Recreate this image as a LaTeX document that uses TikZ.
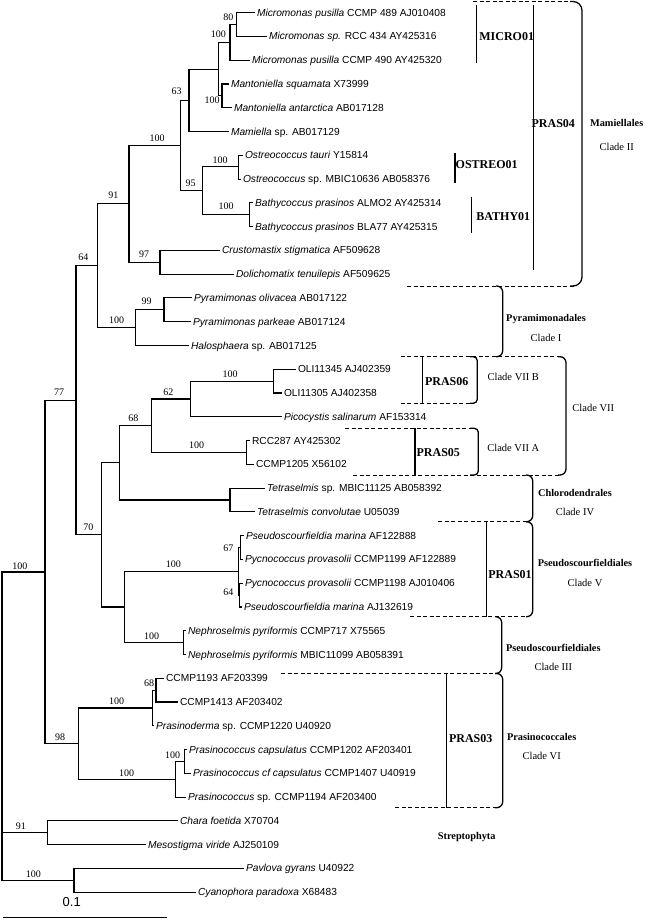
\documentclass[tikz,border=0pt]{standalone}
\usepackage{fontspec}
\setmainfont{Liberation Serif}
\setsansfont{Liberation Sans}

\tikzset{every picture/.style={line width=1.1pt}}
\tikzset{
	leaf/.style={anchor=west, inner sep=1.5pt, text height=7pt, text depth=0pt, font=\sffamily\fontsize{10.2}{12}\selectfont},
	boot/.style={inner sep=0pt, font=\fontsize{10}{12}\selectfont},
	bar/.style={line width=1.3pt},
	brace/.style={line width=1.3pt, rounded corners=6pt},
	dashline/.style={line width=1pt, dash pattern=on 4pt off 2.5pt},
	pras/.style={inner sep=0pt, font=\bfseries\fontsize{12}{14}\selectfont},
	order/.style={inner sep=0pt, font=\bfseries\fontsize{10.3}{12}\selectfont},
	clade/.style={inner sep=0pt, font=\fontsize{10.5}{12}\selectfont}}

\begin{document}
\begin{tikzpicture}[x=1pt,y=1pt,yscale=-1,xscale=1]
	\useasboundingbox (0,0) rectangle (648,920);

	% Leaves
	\node[leaf] (l1) at (255,12.7) {\textit{Micromonas pusilla} CCMP 489 AJ010408};
	\node[leaf] (l2) at (267,36.5) {\textit{Micromonas sp.} RCC 434 AY425316};
	\node[leaf] (l3) at (250,60.2) {\textit{Micromonas pusilla} CCMP 490 AY425320};
	\node[leaf] (l4) at (229,84.0) {\textit{Mantoniella squamata} X73999};
	\node[leaf] (l5) at (232,107.8) {\textit{Mantoniella antarctica} AB017128};
	\node[leaf] (l6) at (229,131.6) {\textit{Mamiella} sp. AB017129};
	\node[leaf] (l7) at (243,155.3) {\textit{Ostreococcus tauri} Y15814};
	\node[leaf] (l8) at (241,179.1) {\textit{Ostreococcus} sp. MBIC10636 AB058376};
	\node[leaf] (l9) at (253,202.9) {\textit{Bathycoccus prasinos} ALMO2 AY425314};
	\node[leaf] (l10) at (253,226.6) {\textit{Bathycoccus prasinos} BLA77 AY425315};
	\node[leaf] (l11) at (220,250.4) {\textit{Crustomastix stigmatica} AF509628};
	\node[leaf] (l12) at (234,274.2) {\textit{Dolichomatix tenuilepis} AF509625};
	\node[leaf] (l13) at (192,297.9) {\textit{Pyramimonas olivacea} AB017122};
	\node[leaf] (l14) at (191,321.7) {\textit{Pyramimonas parkeae} AB017124};
	\node[leaf] (l15) at (189,345.5) {\textit{Halosphaera} sp. AB017125};
	\node[leaf] (l16) at (296,369.3) {OLI11345 AJ402359};
	\node[leaf] (l17) at (282,393.0) {OLI11305 AJ402358};
	\node[leaf] (l18) at (282,416.8) {\textit{Picocystis salinarum} AF153314};
	\node[leaf] (l19) at (250,440.6) {RCC287 AY425302};
	\node[leaf] (l20) at (254,464.3) {CCMP1205 X56102};
	\node[leaf] (l21) at (265,488.1) {\textit{Tetraselmis} sp. MBIC11125 AB058392};
	\node[leaf] (l22) at (255,511.9) {\textit{Tetraselmis convolutae} U05039};
	\node[leaf] (l23) at (244,535.6) {\textit{Pseudoscourfieldia marina} AF122888};
	\node[leaf] (l24) at (243,559.4) {\textit{Pycnococcus provasolii} CCMP1199 AF122889};
	\node[leaf] (l25) at (243,583.2) {\textit{Pycnococcus provasolii} CCMP1198 AJ010406};
	\node[leaf] (l26) at (242,607.0) {\textit{Pseudoscourfieldia marina} AJ132619};
	\node[leaf] (l27) at (186,630.7) {\textit{Nephroselmis pyriformis} CCMP717 X75565};
	\node[leaf] (l28) at (186,654.5) {\textit{Nephroselmis pyriformis} MBIC11099 AB058391};
	\node[leaf] (l29) at (164,678.3) {CCMP1193 AF203399};
	\node[leaf] (l30) at (178,702.0) {CCMP1413 AF203402};
	\node[leaf] (l31) at (154,725.8) {\textit{Prasinoderma} sp. CCMP1220 U40920};
	\node[leaf] (l32) at (187,749.6) {\textit{Prasinococcus capsulatus} CCMP1202 AF203401};
	\node[leaf] (l33) at (191,773.3) {\textit{Prasinococcus cf capsulatus} CCMP1407 U40919};
	\node[leaf] (l34) at (186,797.1) {\textit{Prasinococcus} sp. CCMP1194 AF203400};
	\node[leaf] (l35) at (178,820.9) {\textit{Chara foetida} X70704};
	\node[leaf] (l36) at (146,844.7) {\textit{Mesostigma viride} AJ250109};
	\node[leaf] (l37) at (244,868.4) {\textit{Pavlova gyrans} U40922};
	\node[leaf] (l38) at (196,892.2) {\textit{Cyanophora paradoxa} X68483};

	% Internal nodes
	\coordinate (nA) at (236.7,24.6);
	\coordinate (nB) at (230,42.4);
	\coordinate (nMa) at (222,95.9);
	\coordinate (nC) at (218.3,69.2);
	\coordinate (n63) at (189,100.4);
	\coordinate (nOs) at (238.3,166.2);
	\coordinate (nBa) at (249.3,214.7);
	\coordinate (n95) at (202.3,190.5);
	\coordinate (nMam) at (180.3,145.4);
	\coordinate (n97) at (160,262.3);
	\coordinate (n91) at (129,203.9);
	\coordinate (n99) at (164,309.8);
	\coordinate (nPy) at (135.7,327.7);
	\coordinate (n64) at (97.7,265.8);
	\coordinate (nOL) at (273.3,381.1);
	\coordinate (n62) at (190.7,399);
	\coordinate (nRC) at (246.7,452.4);
	\coordinate (n68) at (151.7,425.7);
	\coordinate (nTe) at (230,500);
	\coordinate (nU) at (119.3,462.9);
	\coordinate (n67) at (240.7,547.5);
	\coordinate (n64b) at (239.7,595.1);
	\coordinate (nPs) at (238.7,571.3);
	\coordinate (nNe) at (183.3,642.6);
	\coordinate (nPN) at (124.3,607);
	\coordinate (n70) at (101.7,534.9);
	\coordinate (n77) at (76,400.4);
	\coordinate (n68b) at (156,690.1);
	\coordinate (nCC) at (152.7,708);
	\coordinate (nPcc) at (184.3,761.5);
	\coordinate (nPc) at (175.7,779.3);
	\coordinate (n98) at (78.3,743.7);
	\coordinate (n100r) at (45,572);
	\coordinate (n91s) at (47.7,832.8);
	\coordinate (nOut) at (74,880.3);
	\coordinate (root) at (2,726);

	% Branches
	\draw (nA) |- (l1.west);
	\draw (nA) |- (l2.west);
	\draw (nB) |- (nA);
	\draw (nB) |- (l3.west);
	\draw (nMa) |- (l4.west);
	\draw (nMa) |- (l5.west);
	\draw (nC) |- (nB);
	\draw (nC) |- (nMa);
	\draw (n63) |- (nC);
	\draw (n63) |- (l6.west);
	\draw (nOs) |- (l7.west);
	\draw (nOs) |- (l8.west);
	\draw (nBa) |- (l9.west);
	\draw (nBa) |- (l10.west);
	\draw (n95) |- (nOs);
	\draw (n95) |- (nBa);
	\draw (nMam) |- (n63);
	\draw (nMam) |- (n95);
	\draw (n97) |- (l11.west);
	\draw (n97) |- (l12.west);
	\draw (n91) |- (nMam);
	\draw (n91) |- (n97);
	\draw (n99) |- (l13.west);
	\draw (n99) |- (l14.west);
	\draw (nPy) |- (n99);
	\draw (nPy) |- (l15.west);
	\draw (n64) |- (n91);
	\draw (n64) |- (nPy);
	\draw (nOL) |- (l16.west);
	\draw (nOL) |- (l17.west);
	\draw (n62) |- (nOL);
	\draw (n62) |- (l18.west);
	\draw (nRC) |- (l19.west);
	\draw (nRC) |- (l20.west);
	\draw (n68) |- (n62);
	\draw (n68) |- (nRC);
	\draw (nTe) |- (l21.west);
	\draw (nTe) |- (l22.west);
	\draw (nU) |- (n68);
	\draw (nU) |- (nTe);
	\draw (n67) |- (l23.west);
	\draw (n67) |- (l24.west);
	\draw (n64b) |- (l25.west);
	\draw (n64b) |- (l26.west);
	\draw (nPs) |- (n67);
	\draw (nPs) |- (n64b);
	\draw (nNe) |- (l27.west);
	\draw (nNe) |- (l28.west);
	\draw (nPN) |- (nPs);
	\draw (nPN) |- (nNe);
	\draw (n70) |- (nU);
	\draw (n70) |- (nPN);
	\draw (n77) |- (n64);
	\draw (n77) |- (n70);
	\draw (n68b) |- (l29.west);
	\draw (n68b) |- (l30.west);
	\draw (nCC) |- (n68b);
	\draw (nCC) |- (l31.west);
	\draw (nPcc) |- (l32.west);
	\draw (nPcc) |- (l33.west);
	\draw (nPc) |- (nPcc);
	\draw (nPc) |- (l34.west);
	\draw (n98) |- (nCC);
	\draw (n98) |- (nPc);
	\draw (n100r) |- (n77);
	\draw (n100r) |- (n98);
	\draw (n91s) |- (l35.west);
	\draw (n91s) |- (l36.west);
	\draw (nOut) |- (l37.west);
	\draw (nOut) |- (l38.west);
	\draw (root) |- (n100r);
	\draw (root) |- (n91s);
	\draw (root) |- (nOut);

	% Bootstrap values
	\node[boot] (b1) at (228.3,17) {80};
	\node[boot] (b2) at (218.3,34.3) {100};
	\node[boot] (b3) at (212,100) {100};
	\node[boot] (b4) at (176.7,91.7) {63};
	\node[boot] (b5) at (220,160) {100};
	\node[boot] (b6) at (226,206) {100};
	\node[boot] (b7) at (190.7,183.3) {95};
	\node[boot] (b8) at (157,138.3) {100};
	\node[boot] (b9) at (113.3,195) {91};
	\node[boot] (b10) at (144,254.3) {97};
	\node[boot] (b11) at (146.7,301) {99};
	\node[boot] (b12) at (116.7,320) {100};
	\node[boot] (b13) at (83.3,257.7) {64};
	\node[boot] (b14) at (230,374) {100};
	\node[boot] (b15) at (168.3,392.3) {62};
	\node[boot] (b16) at (196.7,445.7) {100};
	\node[boot] (b17) at (133.3,418.3) {68};
	\node[boot] (b18) at (228.3,548.3) {67};
	\node[boot] (b19) at (228.3,592.7) {64};
	\node[boot] (b20) at (173.3,564) {100};
	\node[boot] (b21) at (151.7,636.7) {100};
	\node[boot] (b22) at (88.3,527.7) {70};
	\node[boot] (b23) at (59,392.7) {77};
	\node[boot] (b24) at (149,683.3) {68};
	\node[boot] (b25) at (116.7,701.7) {100};
	\node[boot] (b26) at (172.7,755) {100};
	\node[boot] (b27) at (126.7,773.3) {100};
	\node[boot] (b28) at (60,737.3) {98};
	\node[boot] (b29) at (20,566) {100};
	\node[boot] (b30) at (21,826.7) {91};
	\node[boot] (b31) at (33.3,874) {100};

	% Scale bar
	\draw (3,917.3) -- (166.7,917.3);
	\node[inner sep=0pt, font=\sffamily\fontsize{13}{15}\selectfont] (scale) at (71.7,902.3) {0.1};

	% Dashed separators
	\draw[dashline] (473,1.5) -- (573,1.5);
	\draw[dashline] (407,286) -- (576,286);
	\draw[dashline] (400.7,356.7) -- (560,356.7);
	\draw[dashline] (400.7,403.3) -- (472,403.3);
	\draw[dashline] (345,428.3) -- (472,428.3);
	\draw[dashline] (353,475) -- (560,475);
	\draw[dashline] (438.3,521.7) -- (527,521.7);
	\draw[dashline] (410,616.7) -- (527,616.7);
	\draw[dashline] (281,673.5) -- (497,673.5);
	\draw[dashline] (395,807.7) -- (497,807.7);

	% Braces
	\draw[brace, rounded corners=9pt] (570,1.5) -- (582,1.5) -- (582,286) -- (570,286);
	\draw[brace] (496,286) -- (502.7,286) -- (502.7,356.7) -- (496,356.7);
	\draw[brace, rounded corners=4pt] (470,356.7) -- (477.3,356.7) -- (477.3,403.3) -- (470,403.3);
	\draw[brace, rounded corners=4pt] (470,428.3) -- (478.3,428.3) -- (478.3,475) -- (470,475);
	\draw[brace] (558,356.7) -- (566,356.7) -- (566,475) -- (558,475);
	\draw[brace] (526,475) -- (532.7,475) -- (532.7,521.7) -- (526,521.7);
	\draw[brace] (526,521.7) -- (532.7,521.7) -- (532.7,616.7) -- (526,616.7);
	\draw[brace] (495,616.7) -- (501.7,616.7) -- (501.7,673.5) -- (495,673.5);
	\draw[brace] (495,673.5) -- (502.7,673.5) -- (502.7,807.7) -- (495,807.7);

	% Group bars
	\draw[bar] (476.7,5) -- (476.7,63.3);
	\draw[bar] (455,153.3) -- (455,183.3);
	\draw[bar] (471.7,196.7) -- (471.7,233.3);
	\draw[bar] (533.3,5) -- (533.3,270);
	\draw[bar] (422.7,356.7) -- (422.7,403.3);
	\draw[bar] (415,428.3) -- (415,475);
	\draw[bar] (486.7,521.7) -- (486.7,616.7);
	\draw[bar] (446.7,673.5) -- (446.7,807.7);

	% Group labels
	\node[pras] (micro) at (506.7,36.7) {MICRO01};
	\node[pras] (ostreo) at (486.7,165) {OSTREO01};
	\node[pras] (bathy) at (503.3,216.7) {BATHY01};
	\node[pras] (pras04) at (553.3,123.3) {PRAS04};
	\node[pras] (pras06) at (446.7,381.7) {PRAS06};
	\node[pras] (pras05) at (438.3,452.3) {PRAS05};
	\node[pras] (pras01) at (510,574.3) {PRAS01};
	\node[pras] (pras03) at (470.7,739) {PRAS03};

	% Clade labels
	\node[order] (mam) at (616.7,123.3) {Mamiellales};
	\node[clade] (c2) at (616.7,146.7) {Clade II};
	\node[order] (pyr) at (546,319.3) {Pyramimonadales};
	\node[clade] (c1) at (546,338.3) {Clade I};
	\node[clade] (c7b) at (513.3,376.7) {Clade VII B};
	\node[clade] (c7a) at (513.3,448.3) {Clade VII A};
	\node[clade] (c7) at (593.3,408.3) {Clade VII};
	\node[order] (chl) at (575,493.3) {Chlorodendrales};
	\node[clade] (c4) at (575,512.3) {Clade IV};
	\node[order] (psv) at (585,563.3) {Pseudoscourfieldiales};
	\node[clade] (c5) at (585,582.7) {Clade V};
	\node[order] (psiii) at (553.3,648.3) {Pseudoscourfieldiales};
	\node[clade] (c3) at (553.3,667.3) {Clade III};
	\node[order] (prc) at (541.7,736.7) {Prasinococcales};
	\node[clade] (c6) at (541.7,755.7) {Clade VI};
	\node[order] (str) at (466.7,837.3) {Streptophyta};

\end{tikzpicture}
\end{document}
